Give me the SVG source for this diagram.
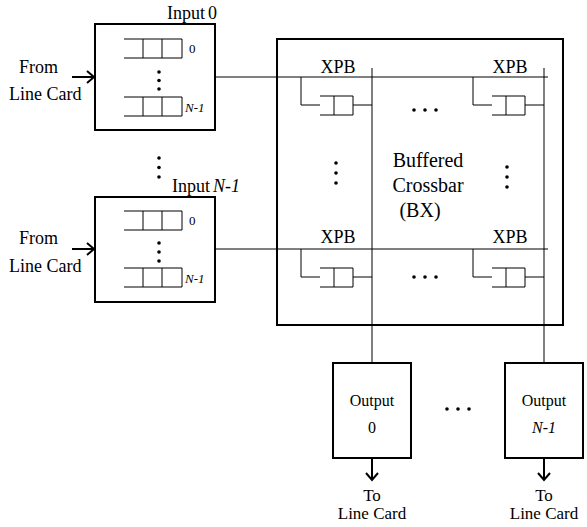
<svg xmlns="http://www.w3.org/2000/svg" width="587" height="527" viewBox="0 0 587 527" font-family="'Liberation Serif', 'Times New Roman', Tinos, 'DejaVu Serif', serif">
<style>
text{font-family:'Liberation Serif','Times New Roman',Tinos,'DejaVu Serif',serif;fill:#000}
.t18{font-size:18px}
.t17{font-size:17px}
.t20{font-size:20px}
.t16{font-size:16px}
.t13{font-size:13px}
.it{font-style:italic}
.box{fill:#fff;stroke:#000;stroke-width:2}
.ln{fill:none;stroke:#000;stroke-width:1}
.arr{fill:none;stroke:#000;stroke-width:2}
</style>
<defs>
<marker id="ah" markerUnits="userSpaceOnUse" markerWidth="14" markerHeight="14" refX="10" refY="7" orient="auto">
<path d="M3,1 L10,7 L3,13" fill="none" stroke="#000" stroke-width="2"/>
</marker>
<g id="q3">
<path class="ln" d="M0,0 H58 V19 H0 M19,0 V19 M38,0 V19"/>
</g>
<g id="xq">
<path class="ln" d="M0,0 V28 H19 M19,19 H52 V38 H19 M33,19 V38 M52,28 H71"/>
</g>
</defs>

<g id="connectors">
<line class="ln" x1="215" y1="77" x2="548" y2="77"/>
<line class="ln" x1="215" y1="249" x2="548" y2="249"/>
<line class="ln" x1="372" y1="68" x2="372" y2="363"/>
<line class="ln" x1="544" y1="68" x2="544" y2="363"/>
<line class="arr" x1="72" y1="77" x2="94" y2="77" marker-end="url(#ah)"/>
<line class="arr" x1="72" y1="249" x2="94" y2="249" marker-end="url(#ah)"/>
<line class="arr" x1="372" y1="458" x2="372" y2="480" marker-end="url(#ah)"/>
<line class="arr" x1="544" y1="458" x2="544" y2="480" marker-end="url(#ah)"/>
</g>

<g id="from0">
<text class="t18" x="19" y="73">From</text>
<text class="t18" x="9" y="100">Line Card</text>
</g>
<g id="from1">
<text class="t18" x="19" y="244">From</text>
<text class="t18" x="9" y="272">Line Card</text>
</g>

<g id="input0">
<rect class="box" x="95" y="24" width="120" height="106"/>
<text class="t18" x="167" y="19">Input<tspan dx="3">0</tspan></text>
<use href="#q3" x="124" y="39"/>
<text class="t13" x="189" y="53">0</text>
<circle cx="159" cy="72" r="1.8"/>
<circle cx="159" cy="80.5" r="1.8"/>
<circle cx="159" cy="89" r="1.8"/>
<use href="#q3" x="124" y="97"/>
<text class="t13 it" x="185" y="112">N-1</text>
</g>

<g id="input-dots">
<circle cx="159" cy="158" r="1.8"/>
<circle cx="159" cy="167.5" r="1.8"/>
<circle cx="159" cy="177" r="1.8"/>
</g>

<g id="inputN1">
<rect class="box" x="95" y="197" width="120" height="105"/>
<text class="t18" x="172" y="192">Input<tspan class="it" dx="3">N-1</tspan></text>
<use href="#q3" x="124" y="211"/>
<text class="t13" x="189" y="225">0</text>
<circle cx="159" cy="243" r="1.8"/>
<circle cx="159" cy="252" r="1.8"/>
<circle cx="159" cy="261" r="1.8"/>
<use href="#q3" x="124" y="268"/>
<text class="t13 it" x="185" y="283">N-1</text>
</g>

<g id="crossbar">
<rect x="277" y="39" width="286" height="286" fill="none" stroke="#000" stroke-width="2"/>
<text class="t20" x="428" y="167" text-anchor="middle">Buffered</text>
<text class="t20" x="428" y="192" text-anchor="middle">Crossbar</text>
<text class="t20" x="420" y="217" text-anchor="middle">(BX)</text>
<circle cx="336" cy="163" r="1.8"/>
<circle cx="336" cy="173" r="1.8"/>
<circle cx="336" cy="183" r="1.8"/>
<circle cx="507" cy="167" r="1.8"/>
<circle cx="507" cy="177" r="1.8"/>
<circle cx="507" cy="187" r="1.8"/>
<circle cx="414" cy="110" r="1.8"/>
<circle cx="425" cy="110" r="1.8"/>
<circle cx="436" cy="110" r="1.8"/>
<circle cx="414" cy="277" r="1.8"/>
<circle cx="425" cy="277" r="1.8"/>
<circle cx="436" cy="277" r="1.8"/>
</g>

<g id="xpb00">
<text class="t18" x="338" y="73" text-anchor="middle">XPB</text>
<use href="#xq" x="301" y="77"/>
</g>
<g id="xpb01">
<text class="t18" x="510" y="73" text-anchor="middle">XPB</text>
<use href="#xq" x="473" y="77"/>
</g>
<g id="xpb10">
<text class="t18" x="338" y="243" text-anchor="middle">XPB</text>
<use href="#xq" x="301" y="249"/>
</g>
<g id="xpb11">
<text class="t18" x="510" y="243" text-anchor="middle">XPB</text>
<use href="#xq" x="473" y="249"/>
</g>

<g id="output0">
<rect class="box" x="333" y="363" width="78" height="95"/>
<text class="t16" x="372" y="406" text-anchor="middle">Output</text>
<text class="t16" x="372" y="433" text-anchor="middle">0</text>
</g>
<g id="output-dots">
<circle cx="447" cy="409" r="1.8"/>
<circle cx="458" cy="409" r="1.8"/>
<circle cx="469" cy="409" r="1.8"/>
</g>
<g id="outputN1">
<rect class="box" x="505" y="363" width="78" height="95"/>
<text class="t16" x="544" y="406" text-anchor="middle">Output</text>
<text class="t16 it" x="544" y="433" text-anchor="middle">N-1</text>
</g>

<g id="to0">
<text class="t17" x="372" y="501" text-anchor="middle">To</text>
<text class="t17" x="372" y="519" text-anchor="middle">Line Card</text>
</g>
<g id="to1">
<text class="t17" x="544" y="501" text-anchor="middle">To</text>
<text class="t17" x="544" y="519" text-anchor="middle">Line Card</text>
</g>
</svg>
